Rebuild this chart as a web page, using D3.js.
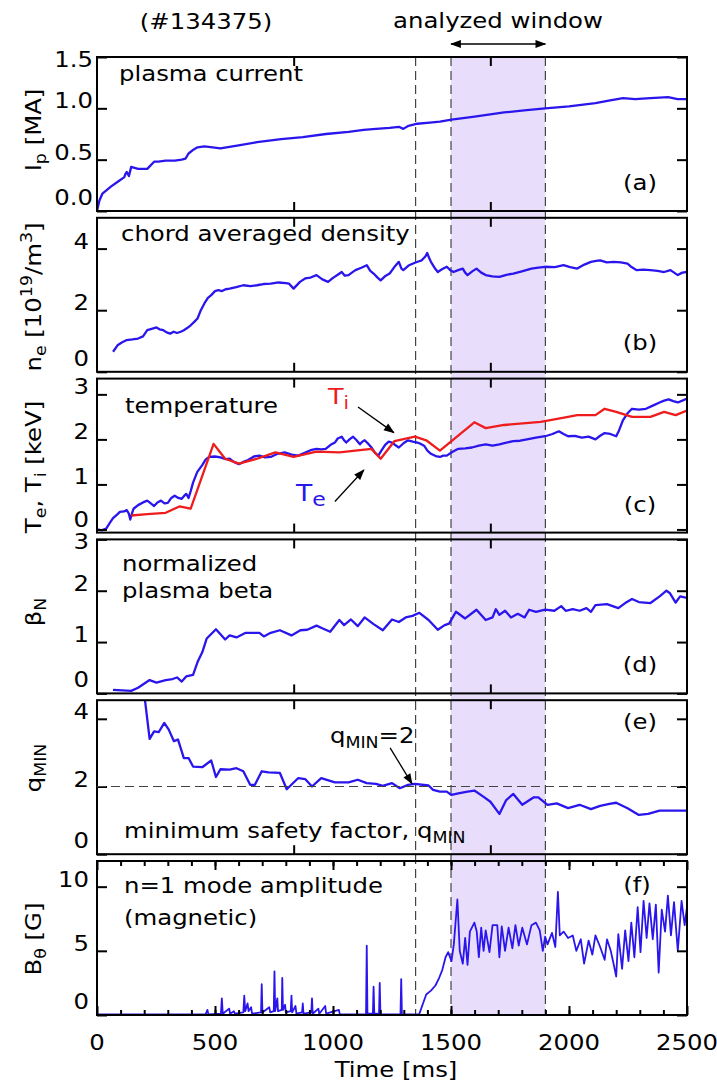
<!DOCTYPE html>
<html>
<head>
<meta charset="utf-8">
<script src="https://cdn.jsdelivr.net/npm/d3@7"></script>
<style>
body { margin: 0; background: #fff; }
text { font-family: "DejaVu Sans", sans-serif; font-size: 21px; fill: #000; }
</style>
</head>
<body>
<svg id="chart" width="717" height="1084"></svg>
<script>
// DATA  (time [ms], value)
const ipData = [[0,0],[10,0.1],[23,0.17],[60,0.24],[97,0.30],[116,0.33],[120,0.36],[126,0.38],[135,0.34],[145,0.43],[174,0.41],[213,0.41],[242,0.48],[260,0.48],[291,0.49],[330,0.49],[359,0.50],[375,0.51],[388,0.56],[410,0.60],[426,0.62],[455,0.63],[490,0.62],[523,0.61],[600,0.64],[678,0.67],[780,0.70],[872,0.72],[970,0.75],[1066,0.77],[1130,0.79],[1182,0.80],[1240,0.81],[1279,0.82],[1298,0.80],[1320,0.83],[1357,0.85],[1410,0.86],[1453,0.87],[1502,0.89],[1600,0.92],[1725,0.96],[1810,0.98],[1899,1.0],[2000,1.02],[2112,1.05],[2180,1.08],[2229,1.10],[2280,1.09],[2345,1.10],[2420,1.11],[2460,1.09],[2500,1.09]];

const neData = [[68,0.65],[87,0.86],[105,0.95],[126,1.03],[150,1.05],[174,1.08],[195,1.15],[213,1.35],[235,1.40],[252,1.44],[265,1.38],[281,1.35],[295,1.28],[310,1.24],[325,1.30],[339,1.26],[355,1.30],[368,1.35],[382,1.42],[397,1.51],[412,1.62],[426,1.73],[440,2.0],[455,2.22],[470,2.40],[484,2.49],[500,2.62],[514,2.65],[530,2.62],[545,2.68],[562,2.70],[590,2.75],[620,2.81],[650,2.78],[678,2.81],[705,2.85],[736,2.86],[770,2.90],[800,2.88],[814,2.86],[833,2.70],[860,2.92],[882,3.03],[905,3.06],[930,3.14],[955,3.00],[979,2.92],[1000,3.05],[1020,3.15],[1037,3.24],[1050,3.12],[1066,3.14],[1080,3.22],[1095,3.30],[1120,3.38],[1143,3.46],[1158,3.28],[1172,3.19],[1190,3.05],[1202,2.97],[1220,3.10],[1240,3.19],[1260,3.40],[1279,3.57],[1290,3.35],[1298,3.30],[1320,3.45],[1347,3.54],[1362,3.58],[1376,3.62],[1392,3.75],[1399,3.86],[1407,3.70],[1415,3.57],[1430,3.38],[1444,3.24],[1460,3.32],[1482,3.41],[1497,3.30],[1511,3.24],[1530,3.30],[1550,3.35],[1560,3.22],[1570,3.14],[1590,3.26],[1608,3.35],[1628,3.22],[1647,3.14],[1675,3.10],[1705,3.08],[1735,3.15],[1764,3.19],[1800,3.26],[1841,3.35],[1870,3.38],[1899,3.41],[1940,3.40],[1977,3.46],[2005,3.40],[2035,3.35],[2065,3.48],[2093,3.57],[2115,3.60],[2132,3.62],[2160,3.55],[2190,3.57],[2220,3.55],[2248,3.51],[2265,3.40],[2287,3.30],[2315,3.32],[2345,3.30],[2375,3.28],[2403,3.24],[2430,3.30],[2461,3.14],[2480,3.22],[2500,3.24]];

const teData = [[0,0.0],[20,-0.02],[39,0.02],[55,0.15],[68,0.25],[85,0.33],[97,0.39],[115,0.40],[126,0.43],[135,0.35],[141,0.22],[148,0.35],[155,0.46],[174,0.54],[195,0.60],[213,0.64],[228,0.58],[242,0.52],[256,0.60],[271,0.64],[286,0.58],[300,0.59],[315,0.70],[329,0.75],[345,0.70],[359,0.68],[370,0.75],[378,0.79],[388,0.70],[397,0.85],[407,1.04],[425,1.28],[446,1.43],[460,1.55],[475,1.61],[500,1.62],[523,1.60],[545,1.56],[562,1.57],[580,1.50],[601,1.45],[620,1.50],[640,1.54],[665,1.62],[688,1.64],[712,1.60],[736,1.61],[765,1.68],[795,1.71],[825,1.66],[853,1.64],[880,1.70],[905,1.76],[930,1.79],[950,1.78],[969,1.79],[990,1.88],[1008,1.93],[1020,2.02],[1037,2.06],[1047,1.98],[1056,1.93],[1070,2.00],[1085,2.06],[1100,1.98],[1114,1.89],[1124,1.95],[1134,1.98],[1150,1.90],[1163,1.82],[1178,1.70],[1192,1.64],[1205,1.75],[1221,1.88],[1236,1.95],[1250,1.93],[1265,1.87],[1279,1.82],[1300,1.92],[1318,1.98],[1338,1.95],[1357,1.93],[1372,1.90],[1386,1.86],[1400,1.75],[1415,1.68],[1435,1.63],[1453,1.61],[1467,1.64],[1482,1.64],[1505,1.72],[1531,1.79],[1560,1.80],[1589,1.82],[1618,1.86],[1647,1.89],[1676,1.86],[1705,1.89],[1735,1.93],[1764,1.96],[1793,1.97],[1822,2.00],[1860,2.04],[1899,2.07],[1930,2.12],[1957,2.18],[1977,2.12],[1996,2.07],[2025,2.08],[2054,2.04],[2083,2.06],[2112,2.00],[2132,2.08],[2151,2.14],[2175,2.12],[2200,2.07],[2212,2.20],[2229,2.43],[2248,2.58],[2267,2.68],[2296,2.66],[2326,2.68],[2355,2.75],[2384,2.82],[2403,2.86],[2422,2.89],[2442,2.85],[2461,2.82],[2480,2.86],[2500,2.91]];

const tiData = [[145,0.31],[213,0.34],[291,0.37],[349,0.51],[397,0.46],[494,1.90],[543,1.57],[601,1.46],[678,1.57],[756,1.71],[833,1.61],[930,1.73],[1027,1.71],[1163,1.79],[1202,1.57],[1260,1.96],[1347,2.06],[1395,1.98],[1453,1.75],[1502,1.96],[1599,2.38],[1647,2.25],[1725,2.32],[1880,2.39],[1996,2.5],[2035,2.54],[2112,2.54],[2151,2.68],[2200,2.61],[2267,2.5],[2345,2.5],[2403,2.61],[2452,2.54],[2500,2.64]];

const betaData = [[68,0.07],[107,0.06],[145,0.05],[174,0.11],[223,0.26],[252,0.21],[291,0.26],[320,0.28],[339,0.31],[359,0.23],[378,0.33],[407,0.36],[426,0.61],[446,0.80],[465,1.07],[504,1.25],[543,1.05],[562,1.13],[591,1.09],[630,1.18],[688,1.18],[707,1.11],[736,1.18],[775,1.23],[824,1.13],[862,1.23],[891,1.24],[930,1.32],[959,1.26],[988,1.20],[1027,1.43],[1047,1.33],[1076,1.44],[1105,1.31],[1134,1.48],[1172,1.35],[1211,1.23],[1250,1.44],[1279,1.39],[1308,1.48],[1337,1.51],[1366,1.57],[1405,1.43],[1444,1.24],[1473,1.33],[1492,1.36],[1521,1.59],[1560,1.46],[1608,1.63],[1647,1.43],[1676,1.48],[1690,1.64],[1705,1.53],[1729,1.61],[1754,1.48],[1783,1.55],[1812,1.48],[1831,1.63],[1860,1.59],[1899,1.63],[1938,1.61],[1967,1.70],[1986,1.61],[2016,1.64],[2045,1.61],[2074,1.66],[2093,1.59],[2112,1.72],[2161,1.74],[2209,1.66],[2238,1.76],[2267,1.84],[2296,1.78],[2345,1.76],[2384,1.89],[2413,2.0],[2428,1.95],[2452,1.77],[2471,1.89],[2500,1.86]];

const qminData = [[195,5.2],[203,4.57],[223,3.41],[242,3.63],[262,3.61],[285,3.88],[304,3.68],[326,3.34],[343,3.39],[368,2.84],[388,2.84],[407,2.59],[446,2.57],[484,2.77],[504,2.28],[523,2.51],[562,2.50],[591,2.54],[620,2.45],[649,2.05],[669,2.05],[698,2.45],[727,2.42],[775,2.40],[804,1.92],[853,2.25],[882,2.22],[911,2.0],[950,2.25],[1008,2.12],[1066,2.12],[1105,2.20],[1143,2.10],[1182,2.08],[1211,2.02],[1250,2.10],[1283,1.95],[1318,2.05],[1347,2.08],[1405,2.03],[1424,1.90],[1453,1.85],[1482,1.85],[1502,1.75],[1531,1.80],[1570,1.85],[1599,1.88],[1637,1.70],[1667,1.55],[1705,1.19],[1734,1.60],[1764,1.78],[1802,1.46],[1851,1.68],[1870,1.68],[1909,1.46],[1948,1.50],[1996,1.36],[2045,1.46],[2093,1.33],[2132,1.43],[2171,1.49],[2200,1.52],[2248,1.36],[2296,1.16],[2335,1.19],[2384,1.29],[2442,1.29],[2500,1.29]];

const bThetaData = [[0,0.05],[460,0.05],[468,0.4],[472,0.05],[525,0.1],[529,1.3],[533,0.1],[560,0.5],[564,0.1],[580,0.3],[584,0.1],[620,0.2],[624,1.5],[628,0.3],[638,0.9],[642,0.3],[653,0.6],[657,0.1],[695,0.2],[698,2.4],[701,0.2],[730,0.6],[734,0.2],[749,0.3],[752,3.4],[755,0.3],[764,1.3],[767,0.3],[783,0.4],[785,2.9],[788,0.4],[797,0.8],[800,0.2],[821,0.3],[824,1.5],[827,0.2],[841,0.7],[845,0.1],[869,0.2],[872,0.9],[875,0.1],[908,0.2],[911,1.3],[914,0.1],[938,0.5],[942,0.1],[967,0.7],[971,0.1],[1025,0.4],[1029,0.05],[1140,0.05],[1143,5.4],[1146,0.1],[1169,0.1],[1172,2.2],[1175,0.1],[1195,0.1],[1198,2.5],[1201,0.05],[1286,0.05],[1289,2.8],[1292,0.05],[1365,0.05],[1395,1.6],[1415,1.9],[1434,2.3],[1450,2.9],[1463,3.5],[1477,4.5],[1488,4.9],[1502,4.2],[1512,5.5],[1527,9.0],[1537,5.0],[1550,4.0],[1560,6.0],[1570,3.9],[1580,6.5],[1599,7.2],[1609,6.5],[1618,4.5],[1628,6.8],[1638,5.0],[1647,6.6],[1663,4.9],[1676,7.0],[1696,7.0],[1705,4.5],[1715,6.9],[1729,5.0],[1744,6.8],[1760,5.2],[1773,7.0],[1787,5.4],[1802,6.8],[1822,5.5],[1841,7.0],[1860,7.2],[1876,6.6],[1889,5.0],[1899,6.1],[1909,5.5],[1928,6.4],[1942,5.3],[1953,9.6],[1961,6.2],[1977,6.5],[1996,6.0],[2016,6.2],[2031,5.0],[2050,5.9],[2064,4.0],[2083,5.8],[2099,4.7],[2112,6.2],[2132,5.3],[2151,4.3],[2161,5.9],[2177,5.0],[2190,3.9],[2200,3.0],[2209,6.3],[2225,3.6],[2238,6.6],[2252,4.2],[2264,7.2],[2277,4.5],[2291,8.4],[2303,4.9],[2316,8.9],[2329,6.0],[2341,8.7],[2355,5.9],[2368,8.6],[2380,3.3],[2393,8.2],[2407,6.5],[2419,9.3],[2432,6.2],[2445,8.8],[2461,5.0],[2477,8.9],[2490,7.0],[2500,8.4]];

// tick values / labels
const timeTicks = [0, 500, 1000, 1500, 2000, 2500];
const innerTimeTicks = [2500 / 3, 5000 / 3];
const ipTicks = [0, 0.5, 1.0, 1.5];
const neTicks = [0, 2, 4];
const tempTicks = [0, 1, 2, 3];
const betaTicks = [0, 1, 2, 3];
const qTicks = [0, 2, 4];
const bTicks = [0, 5, 10];

const markTimes = [1350, 1500, 1900];   // dashed markers
const windowRange = [1500, 1900];        // analyzed window

// LAYOUT
const left = 97, right = 687;
const panelTops = [57, 217.8, 378.6, 539.4, 700.2, 861];
const panelH = 154;
const SX = 1.16;           // the original font is a bit wider than DejaVu
const BLUE = '#2a16ec', RED = '#ee1c1c';

let svg = d3.select('#chart');
let x = d3.scaleLinear().domain([0, 2500]).range([left, right]);

let defs = svg.append('defs');
defs.append('marker')
    .attr('id', 'ah')
    .attr('viewBox', '0 0 12 10')
    .attr('refX', 11).attr('refY', 5)
    .attr('markerWidth', 12).attr('markerHeight', 9)
    .attr('markerUnits', 'userSpaceOnUse')
    .attr('orient', 'auto-start-reverse')
    .append('path').attr('d', 'M0,0.5 L12,5 L0,9.5 z').attr('fill', '#000');

// rich text with sub/superscripts, parts = [[str, kind], ...]
function richText(g, px, py, parts, opts) {
    opts = opts || {};
    let t = g.append('text')
        .attr('transform', 'translate(' + px + ',' + py + ') rotate(' + (opts.rot || 0) + ') scale(' + SX + ',1)')
        .attr('text-anchor', opts.anchor || 'start')
        .style('fill', opts.fill || '#000');
    if (opts.size) t.style('font-size', opts.size + 'px');
    if (opts.dy) t.attr('dy', opts.dy);
    let shift = 0;
    parts.forEach(function (p) {
        let kind = p[1] || '';
        let target = kind === 'sub' ? 5 : kind === 'sup' ? -9 : 0;
        let ts = t.append('tspan').attr('dy', target - shift).text(p[0]);
        if (kind) ts.style('font-size', (opts.subSize || 15) + 'px');
        shift = target;
    });
    return t;
}

// shaded window + dashed markers, across all panels
svg.append('rect')
    .attr('x', x(windowRange[0]))
    .attr('y', panelTops[0])
    .attr('width', x(windowRange[1]) - x(windowRange[0]))
    .attr('height', panelTops[5] + panelH - panelTops[0])
    .attr('fill', '#e9ddfc');

svg.selectAll('line.mark')
    .data(markTimes)
    .enter().append('line')
    .attr('class', 'mark')
    .attr('x1', d => x(d)).attr('x2', d => x(d))
    .attr('y1', panelTops[0]).attr('y2', panelTops[5] + panelH)
    .attr('stroke', '#444').attr('stroke-width', 1.2)
    .attr('stroke-dasharray', '9,5');

// header
richText(svg, 206, 29, [['(#134375)']], { anchor: 'middle' });
richText(svg, 498, 28, [['analyzed window']], { anchor: 'middle' });
svg.append('line')
    .attr('x1', x(windowRange[0])).attr('x2', x(windowRange[1]))
    .attr('y1', 44).attr('y2', 44)
    .attr('stroke', '#000').attr('stroke-width', 1.5)
    .attr('marker-start', 'url(#ah)').attr('marker-end', 'url(#ah)');

let panels = [
    { domain: [0, 1.5], ticks: ipTicks, fmt: d3.format('.1f'), series: [[ipData, BLUE]],
      ylabel: [['I'], ['p', 'sub'], [' [MA]']], ylabelY: 130, tickX: 93,
      tag: '(a)', tagY: 190 },
    { domain: [0, 5], ticks: neTicks, fmt: d3.format('d'), series: [[neData, BLUE]],
      ylabel: [['n'], ['e', 'sub'], [' [10'], ['19', 'sup'], ['/m'], ['3', 'sup'], [']']], ylabelY: 297, tickX: 89,
      tag: '(b)', tagY: 350 },
    { domain: [-0.07, 3.35], ticks: tempTicks, fmt: d3.format('d'), series: [[teData, BLUE], [tiData, RED]],
      ylabel: [['T'], ['e', 'sub'], [', T'], ['i', 'sub'], [' [keV]']], ylabelY: 467, tickX: 89,
      tag: '(c)', tagY: 512 },
    { domain: [0, 3], ticks: betaTicks, fmt: d3.format('d'), series: [[betaData, BLUE]],
      ylabel: [['β'], ['N', 'sub']], ylabelY: 612, tickX: 89,
      tag: '(d)', tagY: 672 },
    { domain: [0, 4.55], ticks: qTicks, fmt: d3.format('d'), series: [[qminData, BLUE]],
      ylabel: [['q'], ['MIN', 'sub']], ylabelY: 768, tickX: 89,
      tag: '(e)', tagY: 729 },
    { domain: [0, 12], ticks: bTicks, fmt: d3.format('d'), series: [[bThetaData, BLUE]],
      ylabel: [['B'], ['θ', 'sub'], [' [G]']], ylabelY: 939, tickX: 89,
      tag: '(f)', tagY: 892, tagX: 637 }
];

let yScales = [];

panels.forEach(function (p, i) {
    let top = panelTops[i], bottom = top + panelH;
    let y = d3.scaleLinear().domain(p.domain).range([bottom, top]);
    yScales.push(y);
    let g = svg.append('g');

    g.append('clipPath').attr('id', 'clip' + i)
        .append('rect').attr('x', left).attr('y', top).attr('width', right - left).attr('height', panelH);

    let line = d3.line().x(d => x(d[0])).y(d => y(d[1]));
    p.series.forEach(function (s) {
        g.append('path')
            .datum(s[0])
            .attr('clip-path', 'url(#clip' + i + ')')
            .attr('d', line)
            .attr('fill', 'none')
            .attr('stroke', s[1])
            .attr('stroke-width', i === 5 ? 1.8 : 2.3)
            .attr('stroke-linejoin', 'round');
    });

    // y ticks, both sides, pointing in
    g.append('g').attr('transform', 'translate(' + left + ',0)')
        .call(d3.axisLeft(y).tickValues(p.ticks).tickSizeInner(-10).tickSizeOuter(0).tickFormat(''));
    g.append('g').attr('transform', 'translate(' + right + ',0)')
        .call(d3.axisRight(y).tickValues(p.ticks).tickSizeInner(-10).tickSizeOuter(0).tickFormat(''));

    // x ticks, top and bottom
    let xt = i === 5 ? timeTicks : innerTimeTicks;
    g.append('g').attr('transform', 'translate(0,' + bottom + ')')
        .call(d3.axisBottom(x).tickValues(xt).tickSizeInner(-9).tickSizeOuter(0).tickFormat(''));
    g.append('g').attr('transform', 'translate(0,' + top + ')')
        .call(d3.axisTop(x).tickValues(xt).tickSizeInner(-9).tickSizeOuter(0).tickFormat(''));
    if (i === 5) {
        g.append('g').attr('transform', 'translate(0,' + bottom + ')')
            .call(d3.axisBottom(x).tickValues(d3.range(100, 2500, 100)).tickSizeInner(-5).tickSizeOuter(0).tickFormat(''));
        g.append('g').attr('transform', 'translate(0,' + top + ')')
            .call(d3.axisTop(x).tickValues(d3.range(100, 2500, 100)).tickSizeInner(-5).tickSizeOuter(0).tickFormat(''));
    }
    g.selectAll('.domain').remove();
    g.selectAll('.tick line').attr('stroke', '#000').attr('stroke-width', 2);

    g.append('rect')
        .attr('x', left).attr('y', top)
        .attr('width', right - left).attr('height', panelH)
        .attr('fill', 'none').attr('stroke', '#000').attr('stroke-width', 2);

    // tick labels (edge labels nudged inside the frame like the original)
    p.ticks.forEach(function (v) {
        let ty = Math.max(top + 10, Math.min(bottom - 6, y(v)));
        richText(g, p.tickX, ty, [[p.fmt(v)]], { anchor: 'end', dy: '0.36em' });
    });

    richText(g, 41, p.ylabelY, p.ylabel, { anchor: 'middle', rot: -90 });
    richText(g, p.tagX || 640, p.tagY, [[p.tag]], { anchor: 'middle' });
});

// panel annotations
let T = panelTops;
richText(svg, 119, T[0] + 24, [['plasma current']]);
richText(svg, 121, T[1] + 23, [['chord averaged density']]);
richText(svg, 125, T[2] + 34, [['temperature']]);
richText(svg, 328, T[2] + 25, [['T'], ['i', 'sub']], { fill: RED, size: 22, subSize: 17 });
richText(svg, 296, T[2] + 122, [['T'], ['e', 'sub']], { fill: BLUE, size: 23, subSize: 19 });
richText(svg, 122, T[3] + 32, [['normalized']]);
richText(svg, 122, T[3] + 59, [['plasma beta']]);
richText(svg, 330, T[4] + 43, [['q'], ['MIN', 'sub'], ['=2']]);
richText(svg, 124, T[4] + 138, [['minimum safety factor, q'], ['MIN', 'sub']]);
richText(svg, 124, T[5] + 32, [['n=1 mode amplitude']]);
richText(svg, 124, T[5] + 64, [['(magnetic)']]);

// q = 2 reference line
svg.append('line')
    .attr('x1', left).attr('x2', right)
    .attr('y1', yScales[4](2)).attr('y2', yScales[4](2))
    .attr('stroke', '#444').attr('stroke-width', 1.2).attr('stroke-dasharray', '9,5');

// arrows pointing at the curves (data coordinates)
function arrow(panel, from, to) {
    let y = yScales[panel];
    svg.append('line')
        .attr('x1', x(from[0])).attr('y1', y(from[1]))
        .attr('x2', x(to[0])).attr('y2', y(to[1]))
        .attr('stroke', '#000').attr('stroke-width', 1.3)
        .attr('marker-end', 'url(#ah)');
}
arrow(2, [1106, 2.72], [1258, 2.15]);
arrow(2, [1008, 0.62], [1131, 1.32]);
arrow(4, [1242, 3.14], [1335, 2.08]);

// x axis labels
timeTicks.forEach(function (t) {
    richText(svg, x(t), 1050, [[String(t)]], { anchor: 'middle' });
});
richText(svg, 396, 1077, [['Time [ms]']], { anchor: 'middle' });
</script>
</body>
</html>
